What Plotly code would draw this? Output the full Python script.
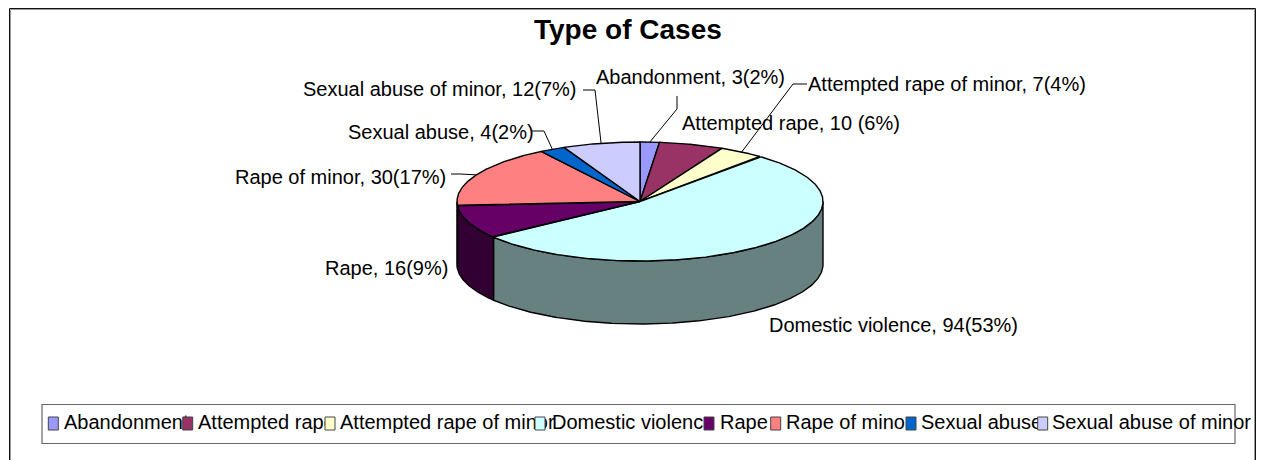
import math
import plotly.graph_objects as go

# ---- data ----
categories = ["Abandonment", "Attempted rape", "Attempted rape of minor", "Domestic violence",
              "Rape", "Rape of minor", "Sexual abuse", "Sexual abuse of minor"]
values = [3, 10, 7, 94, 16, 30, 4, 12]
separators = ["", " ", "", "", "", "", "", ""]
title_text = "Type of Cases"

# ---- style ----
top_colors = ["#9999FF", "#993366", "#FFFFCC", "#CCFFFF", "#660066", "#FF8080", "#0066CC", "#CCCCFF"]
side_colors = ["#4C4C80", "#4D1A33", "#808066", "#678080", "#330033", "#804040", "#003366", "#666680"]
FONT = "Liberation Sans, Arial, sans-serif"
FS = 20
CX, CY, RX, RY, DEPTH = 640, 201.5, 183, 59.5, 63

# label anchor: (left x, centre y)
label_pos = [(594, 77), (680, 123), (806, 84), (767, 325), (323, 268), (233, 177), (346, 132), (301, 89)]
# leader line elbows (from the label to the slice)
leaders = {0: [(677, 96), (677, 109)], 2: [(807, 84), (793, 84)], 5: [(451, 174), (460, 174)],
           6: [(532, 131), (544, 131)], 7: [(583, 90), (595, 90)]}
legend_swatch_x = [53.3, 187.7, 330, 540, 709, 775.7, 911, 1042.7]
legend_text_x = [64, 198, 340, 552, 720, 786, 921, 1052]
LEG_Y = 423.5
SW_HW, SW_HH = 5, 6.5


def pt(deg, drop=0.0):
    r = math.radians(deg)
    return CX + RX * math.sin(r), CY - RY * math.cos(r) + drop


def arc(a0, a1, drop=0.0):
    n = max(2, int(abs(a1 - a0) * 2))
    return [pt(a0 + (a1 - a0) * i / n, drop) for i in range(n + 1)]


total = sum(values)
edges = [0]
for v in values:
    edges.append(edges[-1] + v)
angles = [e / total * 360 for e in edges]

fig = go.Figure()


def poly(points, fill, color="#000000", width=1.4):
    fig.add_trace(go.Scatter(x=[p[0] for p in points], y=[p[1] for p in points], mode="lines",
                             fill="toself", fillcolor=fill, line=dict(color=color, width=width),
                             hoverinfo="skip", showlegend=False))


# side walls (front half only: 90..270 degrees)
for i in range(len(values)):
    a0, a1 = max(angles[i], 90), min(angles[i + 1], 270)
    if a1 > a0:
        poly(arc(a0, a1) + arc(a1, a0, DEPTH) + [pt(a0)], side_colors[i])
# top faces
for i in range(len(values)):
    poly([(CX, CY)] + arc(angles[i], angles[i + 1]) + [(CX, CY)], top_colors[i])

# leader lines
for i, elbow in leaders.items():
    end = pt((angles[i] + angles[i + 1]) / 2)
    pts = elbow + [end]
    fig.add_trace(go.Scatter(x=[p[0] for p in pts], y=[p[1] for p in pts], mode="lines",
                             line=dict(color="#000000", width=1), hoverinfo="skip", showlegend=False))

# data labels
for i, c in enumerate(categories):
    pct = round(values[i] / total * 100)
    fig.add_annotation(x=label_pos[i][0], y=label_pos[i][1], xref="x", yref="y", xanchor="left", yanchor="middle",
                       text=f"{c}, {values[i]}{separators[i]}({pct}%)", showarrow=False,
                       font=dict(family=FONT, size=FS, color="#000000"))

# legend: text first so that each swatch may cover the end of the previous label
fig.add_trace(go.Scatter(x=legend_text_x, y=[LEG_Y] * len(categories), mode="text", text=categories,
                         textposition="middle right", textfont=dict(family=FONT, size=FS, color="#000000"),
                         hoverinfo="skip", showlegend=False))
for sx, col in zip(legend_swatch_x, top_colors):
    poly([(sx - SW_HW, LEG_Y - SW_HH), (sx + SW_HW, LEG_Y - SW_HH), (sx + SW_HW, LEG_Y + SW_HH),
          (sx - SW_HW, LEG_Y + SW_HH), (sx - SW_HW, LEG_Y - SW_HH)], col, color="#444444", width=1)

fig.update_layout(
    width=1266, height=460, margin=dict(l=0, r=0, t=0, b=0),
    paper_bgcolor="#FFFFFF", plot_bgcolor="#FFFFFF", showlegend=False,
    xaxis=dict(range=[0, 1266], visible=False, fixedrange=True),
    yaxis=dict(range=[460, 0], visible=False, fixedrange=True),
    annotations=list(fig.layout.annotations) + [
        dict(x=627.5, y=29, xref="x", yref="y", text=f"<b>{title_text}</b>", showarrow=False,
             font=dict(family=FONT, size=28, color="#000000"))],
    shapes=[
        dict(type="rect", x0=9.5, y0=8.5, x1=1255.5, y1=480, xref="x", yref="y", line=dict(color="#111111", width=1),
             layer="below"),
        dict(type="rect", x0=10.5, y0=9.5, x1=1254.5, y1=480, xref="x", yref="y", line=dict(color="#999999", width=1),
             layer="below"),
        dict(type="rect", x0=42, y0=404.5, x1=1235, y1=443.5, xref="x", yref="y", line=dict(color="#666666", width=1.2),
             layer="below"),
    ],
)
fig.write_html("out.html", config=dict(displayModeBar=False),
               post_script="document.body.style.margin='0';document.body.style.overflow='hidden';")
